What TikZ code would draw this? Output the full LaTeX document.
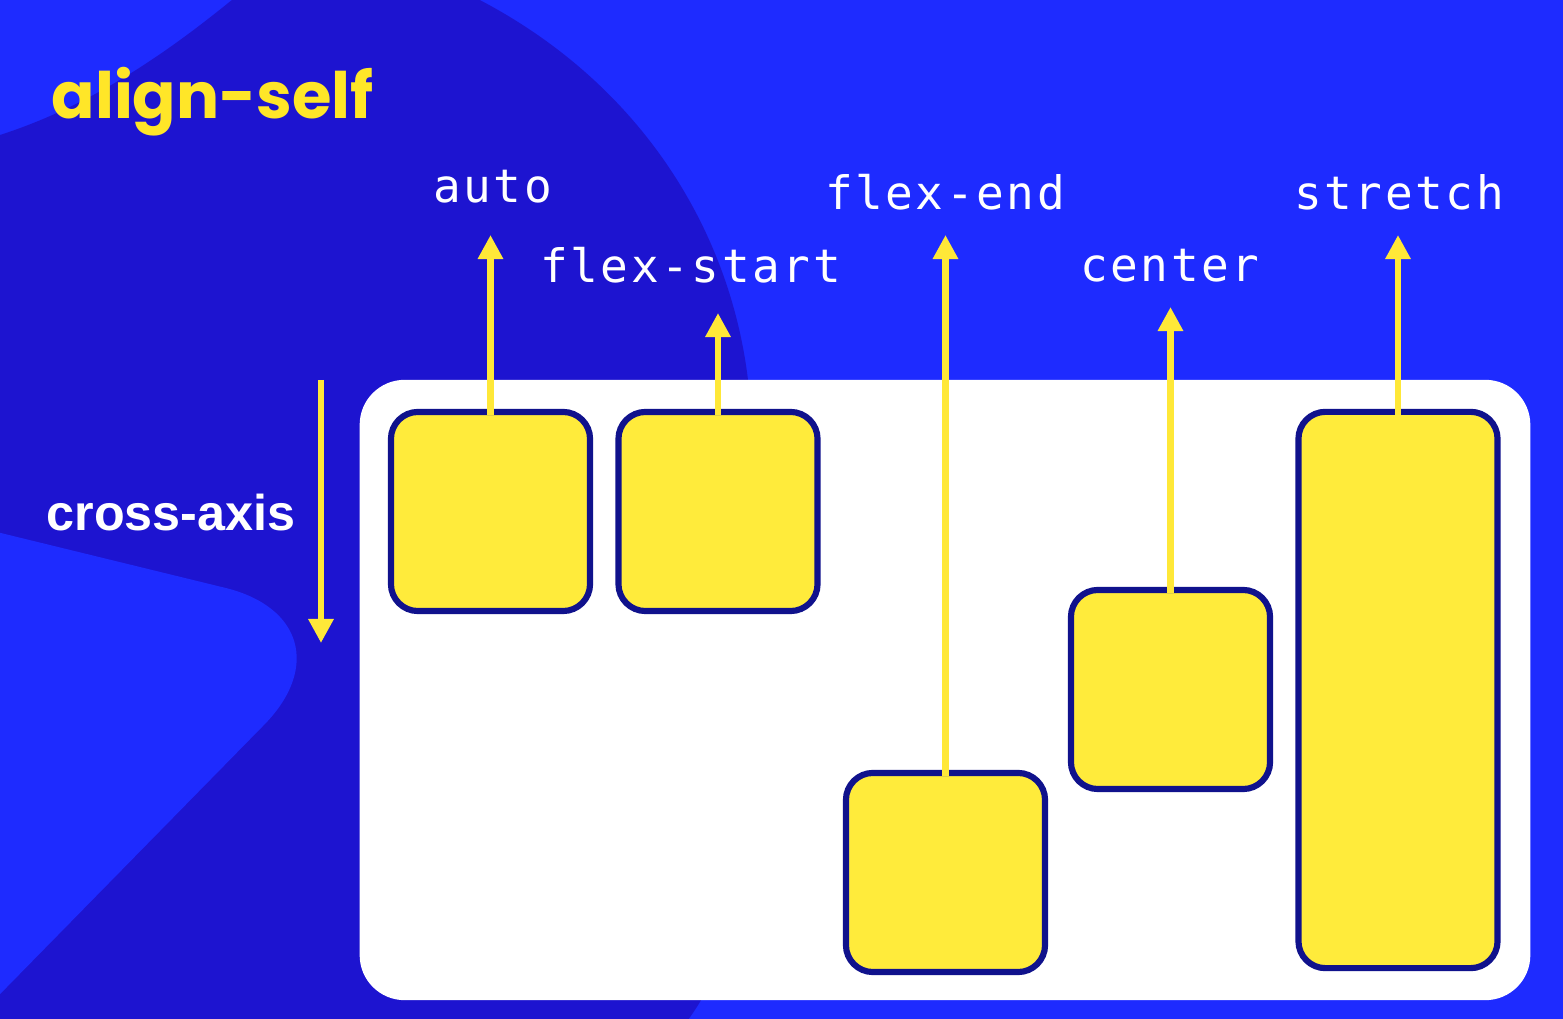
\documentclass[tikz,border=0pt]{standalone}
\usepackage{fontspec}
\setmainfont{Liberation Sans}
\newfontfamily\titlefont{Poppins}
\newfontfamily\monofont[LetterSpace=5.6]{DejaVu Sans Mono}
\newfontfamily\axisfont{Liberation Sans}
\usetikzlibrary{arrows.meta}
\definecolor{bglight}{RGB}{30,43,255}
\definecolor{bgdark}{RGB}{29,20,208}
\definecolor{boxyellow}{RGB}{255,235,59}
\definecolor{boxnavy}{RGB}{16,18,140}
\definecolor{arrowyellow}{RGB}{255,232,56}
\begin{document}
\begin{tikzpicture}[x=0.01cm,y=-0.01cm,
  flexitem/.style={draw=boxnavy, fill=boxyellow, line width=1.75pt, rounded corners=0.27cm, minimum width=1.99cm, minimum height=1.99cm, inner sep=0pt, outer sep=0pt},
  arr/.style={draw=arrowyellow, line width=1.75pt, -{Triangle[width=0.24cm,length=0.24cm]}},
  lbl/.style={text=white, font=\monofont\fontsize{13.1}{15}\selectfont, anchor=base, inner sep=0pt},
  container/.style={fill=white, rounded corners=0.45cm, minimum width=11.70cm, minimum height=6.20cm, inner sep=0pt, outer sep=0pt}]
\useasboundingbox (0,0) rectangle (1563,1019);
\clip (0,0) rectangle (1563,1019);
% background
\fill[bglight] (0,0) rectangle (1563,1019);
\fill[bgdark] (0,135) .. controls (90,106) and (165,55) .. (238,-5) -- (470,-5)
   .. controls (640,80) and (730,230) .. (748,380)
   .. controls (775,560) and (790,900) .. (680,1030) -- (-5,1030) -- cycle;
\fill[bglight, rounded corners=1.44cm] (-300,459.5) -- (365,622) -- (-300,1300) -- cycle;
% title and axis
\node[anchor=base west, inner sep=0pt, text={rgb,255:red,255;green,230;blue,40}, font=\titlefont\bfseries\fontsize{18.2}{21}\selectfont] (title) at (51,119) {align-self};
\node[anchor=base west, inner sep=0pt, text=white, font=\axisfont\bfseries\fontsize{14.3}{17}\selectfont] (axis) at (46,531) {cross-axis};
\coordinate (ca1) at (321,380);
\coordinate (ca2) at (321,643);
\draw[arr] (ca1) -- (ca2);
% container
\node[container] (cont) at (945,690) {};
% items
\node[flexitem] (b1) at (490.5,511.5) {};
\node[flexitem] (b2) at (718,511.5) {};
\node[flexitem] (b3) at (945.5,872.5) {};
\node[flexitem] (b4) at (1170.5,689.5) {};
\node[flexitem, minimum height=5.56cm] (b5) at (1398,690) {};
% labels
\node[lbl] (l1) at (492.5,203) {auto};
\node[lbl] (l2) at (690.5,283) {flex-start};
\node[lbl] (l3) at (945,210) {flex-end};
\node[lbl] (l4) at (1170,282) {center};
\node[lbl] (l5) at (1399,210) {stretch};
% arrow tips
\coordinate (t1) at (490.5,235);
\coordinate (t2) at (718,313);
\coordinate (t3) at (945.5,235);
\coordinate (t4) at (1170.5,307);
\coordinate (t5) at (1398,235);
\draw[arr, shorten <=-0.9pt] (b1.north) -- (t1);
\draw[arr, shorten <=-0.9pt] (b2.north) -- (t2);
\draw[arr, shorten <=-0.9pt] (b3.north) -- (t3);
\draw[arr, shorten <=-0.9pt] (b4.north) -- (t4);
\draw[arr, shorten <=-0.9pt] (b5.north) -- (t5);
\end{tikzpicture}
\end{document}
